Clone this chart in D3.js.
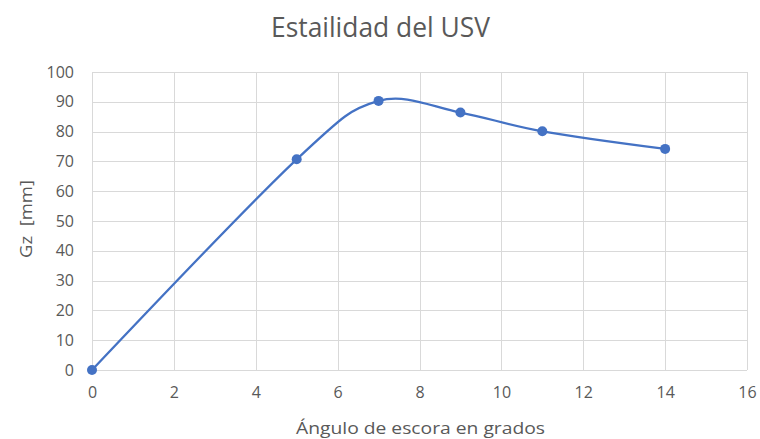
<!DOCTYPE html>
<html>
<head>
<meta charset="utf-8">
<script src="https://cdn.jsdelivr.net/npm/d3@7"></script>
<style>
  html, body { margin: 0; padding: 0; background: #fff; }
  svg { display: block; }
  text { font-family: "Open Sans", "Noto Sans", sans-serif; fill: #595959; }
</style>
</head>
<body>
<svg id="chart" width="760" height="439"></svg>
<script>
// Righting arm (Gz) against heel angle
const angles = [0, 5, 7, 9, 11, 14];
const gz = [0, 70.7, 90.3, 86.4, 80.1, 74.2];
const xTicks = [0, 2, 4, 6, 8, 10, 12, 14, 16];
const yTicks = [0, 10, 20, 30, 40, 50, 60, 70, 80, 90, 100];

const title = "Estailidad del USV";
const xTitle = "Ángulo de escora en grados";
const yTitle = "Gz  [mm]";

const svg = d3.select("#chart");
const margin = { left: 92, right: 13, top: 72, bottom: 69 };
const W = 760, H = 439;

const x = d3.scaleLinear().domain([0, 16]).range([margin.left, W - margin.right]);
const y = d3.scaleLinear().domain([0, 100]).range([H - margin.bottom, margin.top]);

// grid
const grid = svg.append("g").attr("stroke", "#d9d9d9").attr("stroke-width", 1);
grid.selectAll("line.h").data(yTicks).join("line")
  .attr("x1", x(0)).attr("x2", x(16))
  .attr("y1", d => Math.round(y(d)) + 0.5).attr("y2", d => Math.round(y(d)) + 0.5);
grid.selectAll("line.v").data(xTicks).join("line")
  .attr("y1", y(0)).attr("y2", y(100))
  .attr("x1", d => Math.round(x(d)) + 0.5).attr("x2", d => Math.round(x(d)) + 0.5);

// tick labels
const tickFont = "'Open Sans', 'Noto Sans', sans-serif";
const xAxis = d3.axisBottom(x).tickValues(xTicks).tickSize(0).tickPadding(17);
svg.append("g").attr("transform", `translate(0,${y(0)})`).call(xAxis)
  .call(g => g.select(".domain").remove())
  .selectAll("text").style("font-size", "16px").attr("fill", "#595959")
  .style("font-family", tickFont);

const yAxis = d3.axisLeft(y).tickValues(yTicks).tickSize(0).tickPadding(18);
svg.append("g").attr("transform", `translate(${x(0)},0)`).call(yAxis)
  .call(g => g.select(".domain").remove())
  .selectAll("text").style("font-size", "16px").attr("fill", "#595959")
  .style("font-family", tickFont);

// series
const pts = angles.map((a, i) => [a, gz[i]]);
const line = d3.line().x(d => x(d[0])).y(d => y(d[1])).curve(d3.curveCardinal.tension(0));
svg.append("path").datum(pts)
  .attr("d", line).attr("fill", "none")
  .attr("stroke", "#4472c4").attr("stroke-width", 2.25);
svg.selectAll("circle.pt").data(pts).join("circle")
  .attr("cx", d => x(d[0])).attr("cy", d => y(d[1])).attr("r", 5)
  .attr("fill", "#4472c4");

// titles
svg.append("text").attr("x", 271).attr("y", 37)
  .attr("textLength", 219).attr("lengthAdjust", "spacingAndGlyphs")
  .style("font-size", "28px").text(title);
svg.append("text").attr("x", 296).attr("y", 434)
  .attr("textLength", 249).attr("lengthAdjust", "spacingAndGlyphs")
  .style("font-size", "17px").text(xTitle);
svg.append("text").attr("transform", "translate(32,258) rotate(-90)")
  .attr("textLength", 78).attr("lengthAdjust", "spacingAndGlyphs")
  .style("white-space", "pre")
  .style("font-size", "17px").text(yTitle);
</script>
</body>
</html>
